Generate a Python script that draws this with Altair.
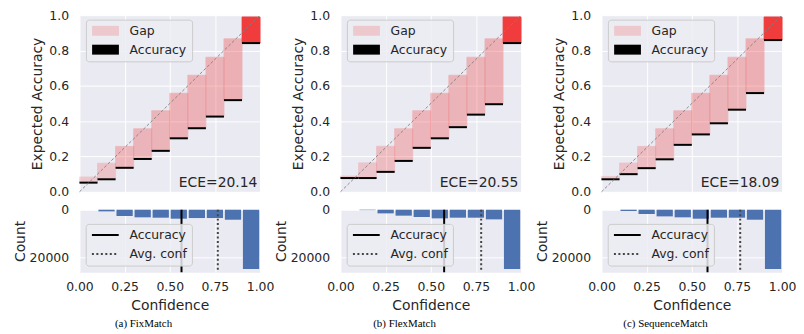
import altair as alt
import pandas as pd

# ---------------- data ----------------
bin_lo = [0.0, 0.1, 0.2, 0.3, 0.4, 0.5, 0.6, 0.7, 0.8, 0.9]
bin_hi = [0.1, 0.2, 0.3, 0.4, 0.5, 0.6, 0.7, 0.8, 0.9, 1.0]

captions = ["(a) FixMatch", "(b) FlexMatch", "(c) SequenceMatch"]
ece_values = [20.14, 20.55, 18.09]

conf_fixmatch = [0.084, 0.162, 0.257, 0.357, 0.459, 0.558, 0.660, 0.762, 0.866, 0.990]
acc_fixmatch = [0.052, 0.071, 0.136, 0.186, 0.232, 0.303, 0.360, 0.426, 0.519, 0.842]
count_fixmatch = [0, 700, 2650, 3200, 3350, 3770, 3500, 3500, 4200, 24900]

conf_flexmatch = [0.089, 0.164, 0.258, 0.357, 0.459, 0.558, 0.660, 0.762, 0.866, 0.990]
acc_flexmatch = [0.078, 0.078, 0.113, 0.175, 0.249, 0.303, 0.366, 0.437, 0.496, 0.842]
count_flexmatch = [0, 200, 1540, 2500, 3070, 3630, 3350, 3350, 4050, 24900]

conf_seqmatch = [0.087, 0.163, 0.257, 0.357, 0.459, 0.558, 0.660, 0.762, 0.866, 0.990]
acc_seqmatch = [0.071, 0.100, 0.134, 0.184, 0.266, 0.325, 0.388, 0.465, 0.559, 0.859]
count_seqmatch = [0, 550, 1800, 2800, 3200, 3770, 3350, 3350, 4200, 24900]

avg_acc = [0.565, 0.574, 0.587]
avg_conf = [0.766, 0.779, 0.768]

confs = [conf_fixmatch, conf_flexmatch, conf_seqmatch]
accs = [acc_fixmatch, acc_flexmatch, acc_seqmatch]
counts = [count_fixmatch, count_flexmatch, count_seqmatch]

top_ticks = [0.0, 0.2, 0.4, 0.6, 0.8, 1.0]
x_ticks = [0.0, 0.25, 0.5, 0.75, 1.0]
count_ticks = [0, 20000]

TXT = "#262626"
W = 182
LBL = 12.5
TTL = 14


def panel(i):
    df = pd.DataFrame({"lo": bin_lo, "hi": bin_hi, "acc": accs[i],
                       "conf": confs[i], "count": counts[i]})
    mx = max(counts[i])
    df["alpha"] = 0.2 + 0.8 * df["count"] / mx
    df["center"] = (df["lo"] + df["hi"]) / 2
    df["hlo"] = df["center"] - 0.045
    df["hhi"] = df["center"] + 0.045
    df["zero"] = 0

    xs = alt.Scale(domain=[0, 1], nice=False, zero=False)
    ys = alt.Scale(domain=[0, 1], nice=False)
    base = alt.Chart(df)

    yax = alt.Axis(values=top_ticks, tickCount=len(top_ticks), format=".1f",
                   title="Expected Accuracy", labelPadding=11, titlePadding=4,
                   labelOverlap=False)

    gap = base.mark_rect(fill="#F03C3C", stroke="#F03C3C", strokeWidth=0.8).encode(
        x=alt.X("lo:Q", scale=xs,
                axis=alt.Axis(values=x_ticks, tickCount=len(x_ticks), labels=False,
                              title=None, grid=True)),
        x2="hi:Q",
        y=alt.Y("acc:Q", scale=ys, axis=yax),
        y2="conf:Q",
        opacity=alt.Opacity("alpha:Q", scale=None, legend=None),
    )
    accl = base.mark_rule(color="black", strokeWidth=2).encode(
        x="lo:Q", x2="hi:Q", y="acc:Q")
    diag = alt.Chart(pd.DataFrame({"d": [0.0, 1.0]})).mark_line(
        color="#808080", strokeDash=[3, 2], strokeWidth=0.9).encode(x="d:Q", y="d:Q")
    ece = alt.Chart(pd.DataFrame({"t": ["ECE=%.2f" % ece_values[i]]})).mark_text(
        align="right", baseline="alphabetic", fontSize=TTL, color=TXT).encode(
        x=alt.datum(0.985), y=alt.datum(0.028), text="t:N")
    leg_top = alt.Chart(pd.DataFrame({"series": ["Gap", "Accuracy"]})).mark_point(
        opacity=0, filled=True).encode(
        x=alt.value(0), y=alt.value(0),
        color=alt.Color("series:N",
                        scale=alt.Scale(domain=["Gap", "Accuracy"], range=["#EDC8CD", "#000000"]),
                        legend=alt.Legend(title=None, orient="none", legendX=6.5, legendY=4.5,
                                          symbolType="M-2.7,-1H2.7V1H-2.7Z", symbolSize=100,
                                          symbolOpacity=1, symbolStrokeWidth=0,
                                          symbolOffset=8.5, labelOffset=18,
                                          labelFontSize=LBL, labelColor=TXT,
                                          rowPadding=6, padding=5,
                                          fillColor="rgba(236,236,243,0.85)",
                                          strokeColor="#CCCCCC", cornerRadius=3)))
    top = alt.layer(gap, accl, diag, ece, leg_top).properties(width=W, height=178)

    hist = base.mark_rect(color="#4C72B0").encode(
        x=alt.X("hlo:Q", scale=xs,
                axis=alt.Axis(values=x_ticks, tickCount=len(x_ticks), format=".2f",
                              title="Confidence", grid=True, labelPadding=8,
                              titlePadding=6.5, labelOverlap=False, labelFlush=False)),
        x2="hhi:Q",
        y=alt.Y("count:Q", scale=alt.Scale(domain=[0, 26200], reverse=True, nice=False),
                axis=alt.Axis(values=count_ticks, tickCount=len(count_ticks), format="d",
                              title="Count", labelPadding=11, titlePadding=2,
                              labelOverlap=False)),
        y2="zero:Q",
    )
    avg = pd.DataFrame({"series": ["Accuracy", "Avg. conf"], "v": [avg_acc[i], avg_conf[i]]})
    leg_b = alt.Legend(title=None, orient="none", legendX=6.3, legendY=14.3,
                       symbolType="M-2.7,0H2.7", symbolSize=100, symbolStrokeWidth=2,
                       symbolOffset=8.5, labelOffset=18, labelFontSize=LBL, labelColor=TXT,
                       rowPadding=6, padding=5, fillColor="rgba(236,236,243,0.85)",
                       strokeColor="#CCCCCC", cornerRadius=3)
    lines = alt.Chart(avg).mark_rule(strokeWidth=2).encode(
        x=alt.X("v:Q"),
        color=alt.Color("series:N", scale=alt.Scale(domain=["Accuracy", "Avg. conf"],
                                                    range=["#000000", "#444444"]), legend=leg_b),
        strokeDash=alt.StrokeDash("series:N", scale=alt.Scale(domain=["Accuracy", "Avg. conf"],
                                                              range=[[1, 0], [2, 2.5]]), legend=leg_b),
    )
    bottom = alt.layer(hist, lines).properties(width=W, height=63)

    col = alt.vconcat(top, bottom, spacing=18, bounds="flush",
                      title=alt.TitleParams(text=captions[i], orient="bottom",
                                            font="Liberation Serif", fontSize=11,
                                            fontWeight="normal", color="black",
                                            anchor="middle", offset=5.5))
    return col.resolve_scale(color="independent", strokeDash="independent")


chart = alt.hconcat(panel(0), panel(1), panel(2), spacing=0).resolve_scale(
    color="independent", strokeDash="independent").properties(
    padding={"left": 5, "top": 0, "right": 0, "bottom": 0}
).configure(font="DejaVu Sans").configure_view(
    fill="#EAEAF2", strokeOpacity=0
).configure_axis(
    grid=True, gridColor="white", gridWidth=1, domain=False, ticks=False, tickSize=0,
    labelFontSize=LBL, titleFontSize=TTL, labelColor=TXT, titleColor=TXT,
    titleFontWeight="normal", labelFont="DejaVu Sans", titleFont="DejaVu Sans",
    labelOverlap=False
).configure_legend(labelFont="DejaVu Sans")

chart.save("out.html", embed_options={"renderer": "svg", "actions": False})
